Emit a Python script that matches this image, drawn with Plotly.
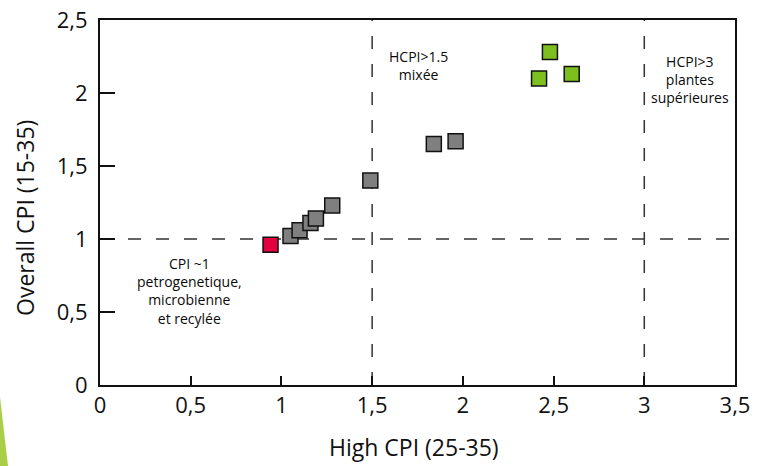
import plotly.graph_objects as go

# Sample groups: high CPI (25-35) vs overall CPI (15-35)
petro_x = [0.94]
petro_y = [0.96]

mixed_x = [1.05, 1.10, 1.16, 1.19, 1.28, 1.49, 1.84, 1.96]
mixed_y = [1.02, 1.06, 1.11, 1.14, 1.23, 1.40, 1.65, 1.67]

plant_x = [2.48, 2.42, 2.60]
plant_y = [2.28, 2.10, 2.13]

x_ticks = [0, 0.5, 1, 1.5, 2, 2.5, 3, 3.5]
y_ticks = [0, 0.5, 1, 1.5, 2, 2.5]

FONT = "Open Sans"
W, H = 757, 466
L, R, T, B = 100, 22, 20, 81

fig = go.Figure()

marker_line = dict(color="#111111", width=1.5)
for xs, ys, col in [(mixed_x, mixed_y, "#7f7f7f"),
                    (petro_x, petro_y, "#e2003f"),
                    (plant_x, plant_y, "#7cbf1f")]:
    fig.add_trace(go.Scatter(
        x=xs, y=ys, mode="markers",
        marker=dict(symbol="square", size=15, color=col, line=marker_line),
        showlegend=False, cliponaxis=False,
    ))

dash = dict(color="#333333", width=1.5, dash="13px,15px")
fig.add_shape(type="line", x0=1.5, x1=1.5, y0=0, y1=2.5, xref="x", yref="y", line=dash, layer="below")
fig.add_shape(type="line", x0=3, x1=3, y0=0, y1=2.5, xref="x", yref="y", line=dash, layer="below")
fig.add_shape(type="line", x0=0, x1=3.5, y0=1, y1=1, xref="x", yref="y", line=dash, layer="below")

# pixel -> paper coordinate helpers
def px(xp):
    return (xp - L) / (W - L - R)

def py(yp):
    return (H - B - yp) / (H - T - B)

# decorative wedge at the lower-left corner
fig.add_shape(
    type="path", xref="paper", yref="paper",
    path=f"M {px(0)} {py(397)} L {px(8)} {py(466)} L {px(0)} {py(466)} Z",
    fillcolor="#a8cf45", line=dict(width=0),
)

txt = dict(family=FONT, size=14, color="#0a0a0a")
fig.add_annotation(x=1.753, y=2.19, text="HCPI>1.5<br>mixée", showarrow=False,
                   font=txt, align="center", xanchor="center", yanchor="middle")
fig.add_annotation(x=3.25, y=2.09, text="HCPI>3<br>plantes<br>supérieures", showarrow=False,
                   font=txt, align="center", xanchor="center", yanchor="middle")
fig.add_annotation(x=0.496, y=0.645, text="CPI ~1<br>petrogenetique,<br>microbienne<br>et recylée",
                   showarrow=False, font=txt, align="center", xanchor="center", yanchor="middle")

title_font = dict(family=FONT, size=23, color="#111111")
fig.add_annotation(x=px(414), y=py(447), xref="paper", yref="paper",
                   text="High CPI (25-35)", showarrow=False, font=title_font,
                   xanchor="center", yanchor="middle")
fig.add_annotation(x=px(25), y=py(218), xref="paper", yref="paper",
                   text="Overall CPI (15-35)", showarrow=False, font=title_font, textangle=-90,
                   xanchor="center", yanchor="middle")

axis_common = dict(
    showgrid=False, zeroline=False, showline=True, mirror=True, automargin=False,
    linecolor="#111111", linewidth=2, ticks="inside", tickcolor="#111111",
    tickwidth=2, tickfont=dict(family=FONT, size=22, color="#111111"),
)

def fmt(v):
    return str(int(v)) if v == int(v) else str(v).replace(".", ",")

fig.update_xaxes(range=[0, 3.5], tickvals=x_ticks, ticktext=[fmt(v) for v in x_ticks],
                 ticklen=9, **axis_common)
fig.update_yaxes(range=[0, 2.5], tickvals=y_ticks, ticktext=[fmt(v) for v in y_ticks],
                 ticklen=15, ticklabelstandoff=6, **axis_common)

fig.update_layout(
    width=W, height=H, autosize=False,
    margin=dict(l=L, r=R, t=T, b=B, pad=0),
    paper_bgcolor="white", plot_bgcolor="white",
    font=dict(family=FONT),
    showlegend=False,
)

fig.write_html("out.html")
